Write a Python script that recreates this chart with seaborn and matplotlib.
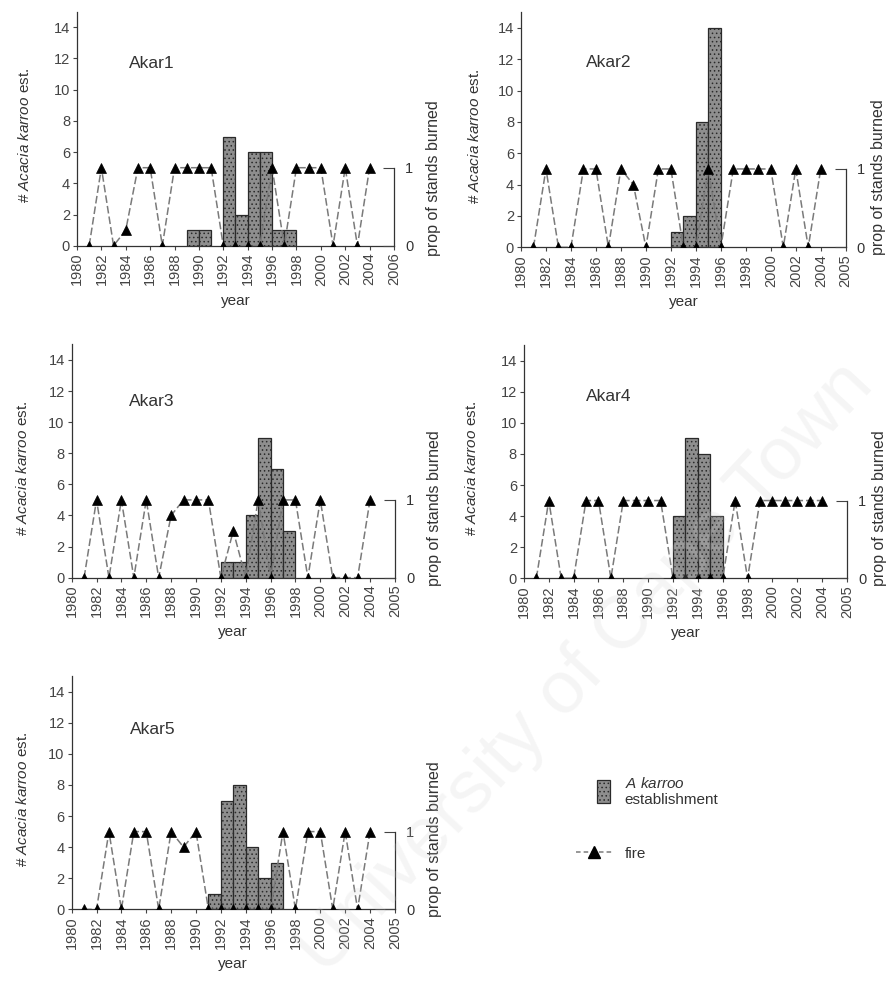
import matplotlib
matplotlib.use("Agg")
import matplotlib.pyplot as plt
import seaborn as sns
import pandas as pd
from matplotlib.patches import Patch, Rectangle
from matplotlib.lines import Line2D
from matplotlib.legend_handler import HandlerPatch

# ---------------- data ----------------
panel_names = ["Akar1", "Akar2", "Akar3", "Akar4", "Akar5"]

fire_years = list(range(1981, 2005))
fire_akar1 = [0, 1, 0, 0.2, 1, 1, 0, 1, 1, 1, 1, 0, 0, 0, 0, 1, 0, 1, 1, 1, 0, 1, 0, 1]
fire_akar2 = [0, 1, 0, 0, 1, 1, 0, 1, 0.8, 0, 1, 1, 0, 0, 1, 0, 1, 1, 1, 1, 0, 1, 0, 1]
fire_akar3 = [0, 1, 0, 1, 0, 1, 0, 0.8, 1, 1, 1, 0, 0.6, 0, 1, 0, 1, 1, 0, 1, 0, 0, 0, 1]
fire_akar4 = [0, 1, 0, 0, 1, 1, 0, 1, 1, 1, 1, 0, 0, 0, 0, 0, 1, 0, 1, 1, 1, 1, 1, 1]
fire_akar5 = [0, 0, 1, 0, 1, 1, 0, 1, 0.8, 1, 0, 0, 0, 0, 0, 0, 1, 0, 1, 1, 0, 1, 0, 1]

est_years_akar1 = [1989, 1990, 1992, 1993, 1994, 1995, 1996, 1997]
est_akar1 = [1, 1, 7, 2, 6, 6, 1, 1]
est_years_akar2 = [1992, 1993, 1994, 1995]
est_akar2 = [1, 2, 8, 14]
est_years_akar3 = [1992, 1993, 1994, 1995, 1996, 1997]
est_akar3 = [1, 1, 4, 9, 7, 3]
est_years_akar4 = [1992, 1993, 1994, 1995]
est_akar4 = [4, 9, 8, 4]
est_years_akar5 = [1991, 1992, 1993, 1994, 1995, 1996]
est_akar5 = [1, 7, 8, 4, 2, 3]

xtick_labels_a = ["1980", "1982", "1984", "1986", "1988", "1990", "1992",
                  "1994", "1996", "1998", "2000", "2002", "2004", "2006"]
xtick_labels_b = ["1980", "1982", "1984", "1986", "1988", "1990", "1992",
                  "1994", "1996", "1998", "2000", "2002", "2004", "2005"]
left_ticks = [0, 2, 4, 6, 8, 10, 12, 14]
right_ticks = [0, 1]

fires = [fire_akar1, fire_akar2, fire_akar3, fire_akar4, fire_akar5]
est_years = [est_years_akar1, est_years_akar2, est_years_akar3, est_years_akar4, est_years_akar5]
ests = [est_akar1, est_akar2, est_akar3, est_akar4, est_akar5]
xlabels_sets = [xtick_labels_a, xtick_labels_b, xtick_labels_b, xtick_labels_b, xtick_labels_b]

# ---------------- style ----------------
sns.set_theme(style="ticks")
plt.rcParams["font.family"] = ["Liberation Sans", "DejaVu Sans"]
plt.rcParams["mathtext.fontset"] = "custom"
plt.rcParams["mathtext.rm"] = "Liberation Sans"
plt.rcParams["mathtext.it"] = "Liberation Sans:italic"
plt.rcParams["hatch.color"] = "#4a4a4a"
plt.rcParams["hatch.linewidth"] = 0.6

BAR = "#8e8e8e"
LINE = "#7a7a7a"
TXT = "#333333"

fig = plt.figure(figsize=(8.88, 9.9), dpi=100)

# axes rectangles in figure fraction [left, bottom, width, height]
rects = [
    [0.0867, 0.7518, 0.357, 0.2364],
    [0.5867, 0.7502, 0.3657, 0.2374],
    [0.0807, 0.4165, 0.364, 0.2356],
    [0.5900, 0.4159, 0.3638, 0.2355],
    [0.0807, 0.0815, 0.364, 0.2355],
]
title_pos = [(1984.3, 11.7), (1985.2, 11.8), (1984.6, 11.3), (1985.0, 11.7), (1984.7, 11.6)]
left_label_x = [-0.142, -0.12, -0.129, -0.139, -0.129]
right_label_x = [1.10, 1.078, 1.10, 1.078, 1.10]
right_label_y = [0.29, 0.30, 0.30, 0.30, 0.30]

for i in range(5):
    ax = fig.add_axes(rects[i])
    df = pd.DataFrame({"pos": [y + 0.5 for y in est_years[i]], "n": ests[i]})
    sns.barplot(data=df, x="pos", y="n", native_scale=True, width=1.0,
                color=BAR, saturation=1, edgecolor="#2a2a2a", linewidth=0.9,
                hatch="....", errorbar=None, ax=ax)
    ax.set_xlim(1980, 2006)
    ax.set_ylim(0, 15)
    ax.set_xticks(list(range(1980, 2007, 2)))
    ax.set_xticklabels(xlabels_sets[i], rotation=90, fontsize=10.5, color=TXT)
    ax.set_yticks(left_ticks)
    ax.set_yticklabels([str(t) for t in left_ticks], fontsize=10.5, color=TXT)
    ax.tick_params(axis="both", length=3, width=0.8, colors="#444444", pad=2)
    ax.set_xlabel("year", fontsize=11, color=TXT)
    ax.xaxis.set_label_coords(0.5, -0.205)
    ax.set_ylabel("# $\\it{Acacia\\ karroo}$ est.", fontsize=11, color=TXT)
    ax.yaxis.set_label_coords(left_label_x[i], 0.47)
    for s in ["top", "right"]:
        ax.spines[s].set_visible(False)
    for s in ["left", "bottom"]:
        ax.spines[s].set_color("#333333")
        ax.spines[s].set_linewidth(0.9)
    ax.text(title_pos[i][0], title_pos[i][1], panel_names[i], fontsize=12.5,
            va="center", ha="left", color=TXT)

    ax2 = ax.twinx()
    sns.lineplot(x=fire_years, y=fires[i], ax=ax2, color=LINE, linewidth=1.1,
                 linestyle=(0, (5, 2)), marker="^", markersize=7.5,
                 markerfacecolor="black", markeredgecolor="black",
                 markeredgewidth=0.5)
    ax2.set_ylim(0, 3)
    ax2.set_xlim(1980, 2006)
    ax2.set_yticks(right_ticks)
    ax2.set_yticklabels(["0", "1"], fontsize=10.5, color=TXT)
    ax2.tick_params(axis="y", direction="in", length=8, width=0.8, colors="#444444", pad=8)
    ax2.tick_params(axis="y", labelcolor=TXT)
    for s in ["top", "left", "bottom"]:
        ax2.spines[s].set_visible(False)
    ax2.spines["right"].set_bounds(0, 1)
    ax2.spines["right"].set_color("#333333")
    ax2.spines["right"].set_linewidth(0.9)
    ax2.set_ylabel("prop of stands burned", fontsize=11.5, color=TXT, rotation=90)
    ax2.yaxis.set_label_coords(right_label_x[i], right_label_y[i])

# ---------------- legend ----------------
def square_patch(legend, orig_handle, xdescent, ydescent, width, height, fontsize):
    s = height * 1.6
    return Rectangle((xdescent + width - s * 0.9, ydescent + height / 2 - s * 0.65),
                     s * 0.75, s * 1.3)

h_est = Patch(facecolor=BAR, edgecolor="#2a2a2a", hatch="....", linewidth=0.9)
h_fire = Line2D([], [], color=LINE, linestyle=(0, (3, 2)), linewidth=1.1,
                marker="^", markersize=9, markerfacecolor="black", markeredgecolor="black")
fig.legend(handles=[h_est, h_fire],
           labels=["$\\it{A\\ karroo}$\nestablishment", "fire"],
           handler_map={h_est: HandlerPatch(patch_func=square_patch)},
           loc="upper left", bbox_to_anchor=(562 / 888, 1 - 762 / 990),
           frameon=False, fontsize=11, handlelength=2.4, handletextpad=0.8,
           labelspacing=2.6, labelcolor=TXT)

# faint watermark
fig.text(0.66, 0.325, "University of Cape Town", rotation=47, fontsize=54,
         color="#d0d0d0", alpha=0.2, ha="center", va="center", zorder=20)

fig.savefig("out.png", dpi=100)
